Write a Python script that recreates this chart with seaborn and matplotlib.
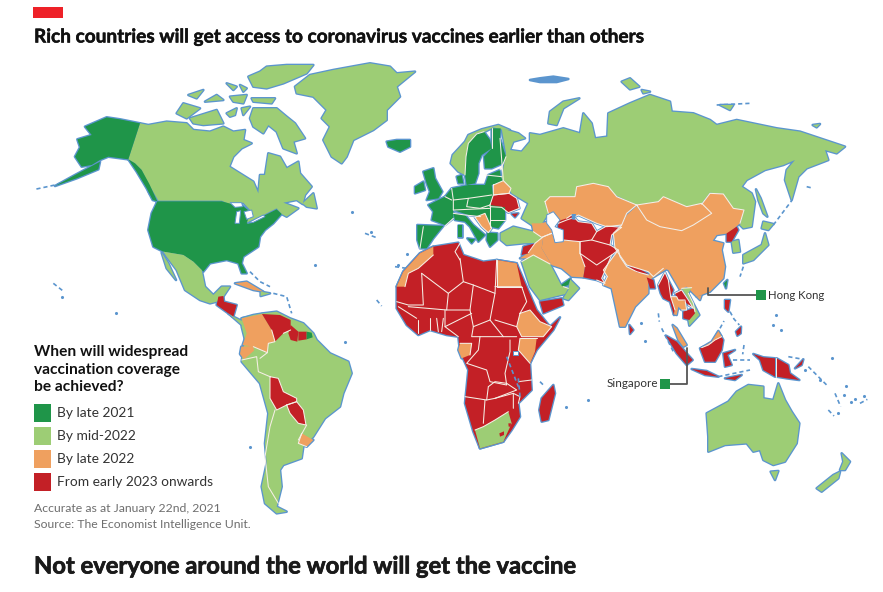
import matplotlib
matplotlib.use("Agg")
import matplotlib.pyplot as plt
import matplotlib.patheffects as pe
import seaborn as sns
import pandas as pd

sns.set_theme(style="white")
plt.rcParams["font.family"] = ["Lato", "DejaVu Sans"]

STATUS = ["By late 2021", "By mid-2022", "By late 2022", "From early 2023 onwards"]
STATUS_COLORS = ["#1F9549", "#9DCD75", "#EFA05F", "#C32026"]
COAST = "#5B95CE"
EDGE = "#F6EFE6"
pal = dict(zip(STATUS, sns.color_palette(STATUS_COLORS)))
LATE21, MID22, LATE22, EARLY23 = STATUS

# ---------------- outlines, in the coordinates of each traced crop (3x) ----------------
N, F, A, S, L = (20, 60), (380, 230), (520, 70), (600, 270), (20, 330)
X, C, U = (650, 265), (500, 190), (410, 120)

# North America
CANADA = [(360,190),(325,298),(345,310),(365,330),(385,370),(415,422),(605,422),(635,435),(670,428),(695,455),(680,488),(730,465),(770,445),(785,462),(800,470),(835,445),(790,428),(830,420),(848,432),(855,405),(875,380),(840,340),(835,305),(800,325),(780,290),(745,280),(735,345),(720,345),(715,400),(700,365),(660,340),(628,320),(640,290),(665,265),(695,250),(670,240),(675,210),(640,215),(610,200),(570,215),(520,210),(500,190),(440,185),(385,195)]
BAFFIN = [(690,175),(700,145),(770,145),(800,170),(825,190),(855,235),(820,245),(830,280),(790,265),(770,215),(745,195),(730,220),(700,200)]
VICTORIA = [(510,175),(590,150),(610,190),(550,195),(520,190)]
BANKS = [(470,160),(490,130),(540,145),(500,175)]
MELVILLE = [(505,105),(550,90),(530,115)]
PRINCE = [(555,125),(610,120),(590,105)]
BATHURST = [(620,70),(650,80),(640,90)]
SOMERSET = [(620,160),(650,145),(645,165),(630,170)]
KING = [(665,145),(690,140),(670,165)]
ELLESMERE = [(685,50),(720,35),(740,20),(800,15),(880,15),(860,40),(790,70),(740,85),(700,80)]
DEVON = [(695,115),(765,115),(755,130),(700,125)]
AXEL = [(660,75),(680,85),(670,95)]
CORNWALL = [(630,110),(680,105),(670,130),(640,125)]
NEWFOUNDLAND = [(848,430),(880,400),(890,445),(860,440)]
GREENLAND = [(825,80),(870,45),(940,30),(1050,10),(1110,20),(1130,40),(1185,35),(1130,80),(1140,110),(1100,150),(1100,180),(1060,210),(1000,240),(980,290),(965,310),(935,290),(910,240),(930,200),(905,175),(920,150),(880,110),(830,100)]
ICELAND = [(1100,245),(1130,240),(1170,240),(1170,260),(1140,275),(1105,260)]
ALASKA = [(360,190),(300,178),(260,172),(195,200),(215,225),(172,238),(180,262),(165,290),(185,320),(215,315),(240,300),(265,290),(325,298)]
AK_PENINSULA = [(240,305),(235,328),(170,355),(105,378),(165,345)]
PANHANDLE = [(325,298),(345,310),(365,330),(388,372),(412,424),(398,420),(380,385),(350,335)]
USA = [(412,424),(605,424),(635,432),(665,435),(690,455),(680,490),(730,468),(770,448),(785,462),(760,490),(735,510),(720,530),(715,560),(670,590),(665,610),(680,640),(665,640),(655,610),(620,600),(570,610),(550,635),(520,605),(490,585),(430,575),(400,560),(385,510),(395,460)]
MEXICO = [(430,575),(490,585),(520,605),(545,630),(555,680),(580,705),(605,680),(630,680),(610,710),(590,725),(570,730),(540,720),(495,690),(470,630),(440,590)]
BAJA = [(425,578),(445,610),(468,660),(440,625)]
CENTRAL = [(595,710),(610,708),(612,725),(650,735),(640,770),(625,760),(590,735)]
PANAMA = [(625,760),(640,770),(670,785),(690,795),(665,795)]
CUBA = [(645,670),(680,665),(730,695),(700,690)]
DOMINICAN = [(722,695),(750,700),(722,708)]

# South America
S_AMERICA = [(665,-35),(700,-45),(730,-50),(770,-55),(810,-35),(850,-20),(880,10),(890,30),(930,70),(985,95),(995,130),(970,190),(960,230),(915,265),(880,320),(850,350),(845,385),(790,405),(780,420),(785,470),(770,530),(800,545),(770,550),(735,520),(725,470),(740,400),(735,340),(745,250),(720,160),(665,95),(670,60),(675,30),(665,-10)]
COLOMBIA = [(665,-35),(726,-48),(755,0),(765,35),(745,40),(742,68),(700,50),(668,45),(680,10)]
ECUADOR = [(664,50),(700,48),(702,62),(672,88),(660,72)]
VENEZUELA = [(726,-48),(780,-45),(812,-30),(812,0),(790,10),(765,35),(755,0)]
GUYANA = [(812,-15),(835,5),(832,35),(812,30),(805,10)]
SURINAME = [(835,5),(860,5),(860,28),(835,32)]
F_GUIANA = [(860,5),(875,8),(878,22),(860,28)]
BOLIVIA = [(750,140),(775,145),(790,185),(830,205),(830,215),(800,225),(770,240),(750,205)]
PARAGUAY = [(800,225),(830,215),(850,240),(858,285),(835,280),(810,250)]
URUGUAY = [(845,310),(880,330),(860,350),(835,340)]

# Africa
AFRICA = [(50,170),(70,125),(120,70),(160,50),(235,38),(250,75),(310,95),(350,90),(410,100),(440,170),(470,240),(510,290),(540,262),(520,300),(470,360),(450,400),(455,480),(415,520),(420,560),(395,600),(370,635),(300,655),(280,605),(255,520),(265,420),(240,365),(235,320),(200,315),(150,300),(115,315),(80,285),(50,235)]
MOROCCO = [(50,170),(70,125),(120,70),(160,50),(160,75),(115,115),(85,130),(75,170)]
EGYPT = [(350,90),(410,100),(425,170),(350,170)]
ETHIOPIA = [(420,250),(450,240),(480,275),(515,290),(490,320),(425,320),(410,290)]
KENYA = [(420,325),(470,325),(465,365),(450,400),(415,360)]
GABON = [(240,340),(275,340),(270,375),(245,385),(235,360)]
S_AFRICA = [(285,600),(310,590),(345,570),(385,545),(395,580),(370,635),(300,655)]
LESOTHO = [(358,610),(372,604),(372,615),(360,620)]
ESWATINI = [(385,580),(393,580),(392,590),(386,590)]
MADAGASCAR = [(520,465),(525,490),(505,570),(485,575),(478,540),(485,505)]

# Europe
NORWAY = [(122,130),(128,105),(165,65),(175,45),(215,28),(265,15),(300,30),(275,28),(250,22),(225,35),(200,40),(175,70),(168,110),(165,165),(145,155)]
SWEDEN = [(175,70),(200,42),(222,35),(240,60),(245,85),(215,105),(205,130),(205,160),(195,190),(170,195),(165,165),(168,110)]
FINLAND = [(245,25),(272,25),(270,55),(288,110),(280,130),(245,145),(225,145),(222,110),(245,85),(245,60)]
BALTICS = [(235,165),(270,150),(272,170),(280,185),(245,195),(225,195)]
BELARUS = [(250,195),(280,182),(303,205),(297,220),(250,225)]
UKRAINE = [(240,255),(250,225),(297,220),(320,235),(328,265),(295,278),(275,262),(240,260)]
CRIMEA = [(305,282),(325,280),(315,292)]
DENMARK = [(140,170),(155,165),(160,190),(145,190)]
UK = [(40,155),(70,145),(75,175),(97,215),(85,235),(50,240),(60,215),(50,190)]
IRELAND = [(15,200),(40,185),(45,210),(15,220)]
IBERIA = [(22,315),(100,318),(70,355),(50,385),(30,385),(22,360)]
FRANCE = [(55,255),(105,230),(130,255),(130,295),(105,315),(65,300),(70,275)]
CENTRAL_EU = [(105,230),(125,205),(175,195),(245,195),(250,225),(240,255),(285,262),(285,300),(265,325),(240,320),(212,290),(175,285),(130,270)]
ITALY = [(130,280),(165,285),(190,315),(225,345),(205,365),(180,320),(165,305),(135,300)]
BALKANS = [(195,292),(225,280),(245,325),(235,338),(215,320)]
GREECE = [(232,338),(262,340),(262,360),(240,380),(230,360)]
SARDINIA = [(145,315),(155,315),(155,350),(145,350)]
SICILY = [(172,355),(195,358),(185,370)]

# Russia and Asia
RUSSIA = [(-55,175),(-5,190),(15,205),(-20,215),(-30,240),(5,245),(30,215),(30,190),(60,195),(130,175),(180,190),(190,130),(215,160),(225,205),(262,200),(265,130),(330,100),(390,75),(450,95),(455,125),(520,130),(570,150),(590,165),(650,150),(770,175),(840,185),(975,230),(950,250),(915,240),(925,270),(860,295),(835,320),(815,390),(795,330),(800,300),(825,270),(790,285),(735,300),(680,330),(665,350),(695,370),(705,395),(695,470),(670,475),(660,465),(672,420),(640,415),(610,372),(570,368),(545,400),(500,410),(430,380),(415,395),(350,405),(285,375),(265,350),(220,340),(170,350),(165,380),(90,380),(75,400),(85,430),(60,470),(35,465),(5,445),(25,400),(-25,370),(-55,325),(-42,250)]
NOVAYA = [(85,160),(90,125),(130,95),(178,85),(130,115),(110,165)]
SAKHALIN = [(708,358),(722,385),(742,440),(730,430),(715,390)]
SVALBARD = [(30,30),(60,25),(100,20),(145,27),(110,36),(60,36)]
SIBERIA_IS = [(600,105),(640,105),(630,120)]
ISLAND_A = [(305,35),(330,25),(358,50),(330,58)]
ISLAND_B = [(365,60),(390,65),(370,70)]
ISLAND_C = [(878,165),(900,162),(890,172)]

TURKEY = [(2,130),(40,110),(100,125),(125,135),(120,158),(70,160),(20,165),(2,150)]
CAUCASUS = [(95,100),(120,100),(145,95),(165,125),(155,130),(125,142),(100,125)]
KAZAKHSTAN = [(75,395),(90,380),(165,380),(170,350),(220,340),(265,350),(290,380),(350,405),(320,430),(305,465),(260,470),(230,460),(175,435),(155,445),(140,450),(115,460),(85,430)]
CENTRAL_ASIA = [(172,118),(178,92),(200,85),(215,75),(235,95),(275,100),(290,125),(320,108),(365,112),(335,135),(330,165),(355,180),(335,195),(305,265),(315,280),(290,270),(250,262),(255,230),(240,190),(240,155),(190,150)]
IRAN = [(130,140),(155,130),(190,150),(240,155),(240,190),(255,230),(250,262),(215,260),(185,235),(155,225),(125,175)]
IRAQ = [(85,188),(105,160),(130,140),(125,175),(155,225),(110,205),(60,205)]
SYRIA = [(70,170),(105,160),(85,190),(65,195)]
SAUDI = [(65,215),(100,195),(150,222),(165,250),(183,285),(205,295),(195,312),(120,330),(90,290)]
OMAN = [(210,268),(237,295),(205,330),(190,325),(205,300)]
UAE = [(183,285),(212,265),(205,285),(190,290)]
YEMEN = [(60,695),(125,685),(130,705),(70,730)]
INDIA = [(250,645),(275,655),(300,770),(315,770),(345,710),(385,670),(385,640),(395,625),(440,597),(420,590),(385,615),(350,605),(320,590),(300,560),(295,540),(250,600),(262,620)]
NEPAL = [(325,588),(350,592),(385,612),(350,607)]
BANGLADESH = [(380,622),(400,630),(405,655),(390,655)]
CHINA = [(350,408),(380,450),(420,470),(485,482),(520,465),(575,430),(545,403),(570,370),(610,372),(640,415),(672,420),(660,460),(625,490),(590,495),(578,512),(610,520),(605,540),(615,590),(610,625),(570,665),(530,680),(500,650),(480,660),(445,600),(430,595),(400,620),(385,605),(320,585),(285,535),(280,490),(305,465),(320,435)]
MONGOLIA = [(350,405),(415,395),(430,380),(500,410),(545,400),(575,430),(520,465),(485,482),(420,470),(380,450)]
N_KOREA = [(620,490),(650,470),(655,480),(635,515),(620,515)]
S_KOREA = [(635,515),(655,510),(660,545),(640,548)]
HONSHU = [(670,580),(670,555),(725,525),(735,490),(745,525),(700,570)]
HOKKAIDO = [(730,455),(760,462),(745,480),(725,475)]

# South-east Asia and Oceania
BURMA = [(25,60),(45,22),(55,45),(70,75),(62,95),(75,135),(72,150),(60,110),(40,100),(32,85)]
THAILAND = [(62,95),(80,95),(85,105),(105,105),(110,135),(95,135),(85,125),(80,150),(72,148),(75,130)]
VIETNAM = [(95,70),(125,68),(115,85),(130,115),(148,150),(118,182),(115,165),(135,140),(115,100)]
LAOS = [(75,85),(95,75),(115,105),(130,130),(115,120),(100,105),(85,105),(80,95)]
CAMBODIA = [(100,140),(130,130),(135,145),(118,165),(100,160)]
HAINAN = [(140,95),(155,90),(150,105)]
TAIWAN = [(222,55),(232,45),(228,70)]
MALAYA = [(68,180),(80,190),(110,240),(100,245),(85,225)]
SUMATRA = [(48,212),(80,230),(110,265),(128,285),(110,300),(80,265)]
JAVA = [(125,312),(170,318),(205,335),(165,330)]
BORNEO = [(150,250),(185,235),(205,200),(220,225),(215,255),(195,290),(165,290)]
SARAWAK = [(155,248),(185,230),(205,198),(215,215),(195,225),(175,240)]
SULAWESI = [(220,265),(255,255),(232,270),(245,300),(225,305)]
LUZON = [(225,105),(240,105),(235,140),(225,130)]
MINDANAO = [(258,200),(273,185),(272,205),(262,212)]
SRI_LANKA = [(88,165),(100,180),(90,192)]
TIMOR = [(375,325),(425,315),(405,330)]
PAPUA = [(460,252),(490,262),(525,265),(525,320),(490,300),(480,270)]
PNG = [(530,265),(565,285),(570,310),(598,330),(560,325),(530,320)]
BRITAIN = [(585,295),(610,268),(605,285)]
AUSTRALIA = [(320,430),(385,395),(410,365),(445,345),(490,350),(490,385),(520,390),(535,340),(555,390),(575,425),(598,460),(590,520),(555,575),(520,585),(490,570),(480,540),(460,545),(440,520),(375,525),(325,545),(325,500)]
TASMANIA = [(512,605),(535,603),(525,630)]
NZ_SOUTH = [(650,655),(700,615),(720,605),(715,625),(665,665)]
NZ_NORTH = [(725,550),(750,575),(735,600),(720,600),(730,575)]

# drawn in this order, so later countries sit on earlier ones
LAND = [
    (N, MID22, CANADA), (N, MID22, BAFFIN), (N, MID22, VICTORIA), (N, MID22, BANKS), (N, MID22, MELVILLE),
    (N, MID22, PRINCE), (N, MID22, BATHURST), (N, MID22, SOMERSET), (N, MID22, KING), (N, MID22, ELLESMERE),
    (N, MID22, DEVON), (N, MID22, AXEL), (N, MID22, CORNWALL), (N, MID22, NEWFOUNDLAND), (N, MID22, GREENLAND),
    (N, LATE21, ICELAND), (N, LATE21, ALASKA), (N, LATE21, AK_PENINSULA), (N, LATE21, PANHANDLE), (N, LATE21, USA),
    (N, MID22, MEXICO), (N, MID22, BAJA), (N, EARLY23, CENTRAL), (N, MID22, PANAMA), (N, LATE22, CUBA), (N, MID22, DOMINICAN),
    (L, MID22, S_AMERICA), (L, LATE22, COLOMBIA), (L, LATE22, ECUADOR), (L, EARLY23, VENEZUELA), (L, EARLY23, GUYANA),
    (L, EARLY23, SURINAME), (L, LATE21, F_GUIANA), (L, EARLY23, BOLIVIA), (L, EARLY23, PARAGUAY), (L, LATE22, URUGUAY),
    (F, EARLY23, AFRICA), (F, LATE22, MOROCCO), (F, LATE22, EGYPT), (F, LATE22, ETHIOPIA), (F, LATE22, KENYA),
    (F, LATE22, GABON), (F, MID22, S_AFRICA), (F, EARLY23, LESOTHO), (F, EARLY23, ESWATINI), (F, EARLY23, MADAGASCAR),
    (A, MID22, RUSSIA), (A, MID22, NOVAYA), (A, MID22, SAKHALIN), (A, COAST, SVALBARD), (A, MID22, SIBERIA_IS),
    (A, MID22, ISLAND_A), (A, MID22, ISLAND_B), (A, MID22, ISLAND_C),
    (U, MID22, NORWAY), (U, LATE21, SWEDEN), (U, LATE21, FINLAND), (U, LATE21, DENMARK), (U, LATE21, BALTICS),
    (U, LATE22, BELARUS), (U, EARLY23, UKRAINE), (U, EARLY23, CRIMEA), (U, LATE21, IBERIA), (U, LATE21, FRANCE),
    (U, LATE21, CENTRAL_EU), (U, LATE21, ITALY), (U, LATE22, BALKANS), (U, LATE21, GREECE), (U, LATE21, UK),
    (U, LATE21, IRELAND), (U, LATE21, SARDINIA), (U, LATE21, SICILY),
    (C, MID22, TURKEY), (C, LATE22, CAUCASUS), (A, LATE22, KAZAKHSTAN), (C, LATE22, IRAN), (C, LATE22, IRAQ), (C, EARLY23, CENTRAL_ASIA),
    (C, EARLY23, SYRIA), (C, MID22, SAUDI), (C, MID22, OMAN), (C, LATE21, UAE), (A, EARLY23, YEMEN), (A, LATE22, INDIA), (A, EARLY23, NEPAL),
    (A, LATE22, CHINA), (A, LATE22, MONGOLIA), (A, EARLY23, BANGLADESH), (A, EARLY23, N_KOREA), (A, MID22, S_KOREA),
    (A, MID22, HONSHU), (A, MID22, HOKKAIDO), (X, LATE21, TAIWAN), (X, LATE22, HAINAN),
    (X, EARLY23, BURMA), (X, LATE22, THAILAND), (X, MID22, VIETNAM), (X, EARLY23, LAOS), (X, EARLY23, CAMBODIA),
    (X, LATE22, MALAYA), (S, EARLY23, SRI_LANKA), (X, EARLY23, LUZON), (X, EARLY23, MINDANAO), (X, EARLY23, SUMATRA),
    (X, EARLY23, JAVA), (X, EARLY23, BORNEO), (X, LATE22, SARAWAK), (X, EARLY23, SULAWESI), (S, EARLY23, TIMOR),
    (S, EARLY23, PAPUA), (S, EARLY23, PNG), (S, EARLY23, BRITAIN), (S, MID22, AUSTRALIA), (S, MID22, TASMANIA),
    (S, MID22, NZ_SOUTH), (S, MID22, NZ_NORTH),
]

# water cut back out of the land
SUPERIOR = [(630,428),(665,428),(668,440),(645,442)]
MICHIGAN = [(650,455),(662,452),(658,490),(645,490)]
HURON = [(672,455),(695,450),(700,470),(680,478)]
ONTARIO = [(682,490),(710,475),(730,465),(735,470),(700,487)]
CASPIAN = [(140,75),(160,65),(180,90),(165,110),(190,120),(190,155),(165,158),(155,120),(140,100)]
ARAL = [(215,72),(228,72),(225,90),(215,88)]
VICTORIA_LAKE = [(400,362),(413,362),(413,376),(400,376)]
WATER = [(N, SUPERIOR), (N, MICHIGAN), (N, HURON), (N, ONTARIO), (C, CASPIAN), (F, VICTORIA_LAKE)]

# white borders between countries
BORDERS_F = [
    [(240,85),(250,155),(205,190),(125,130)], [(125,130),(130,225),(85,225),(50,215)], [(240,40),(225,65),(240,90)],
    [(250,155),(280,165),(345,190),(350,90)], [(280,165),(270,240),(280,290),(330,270),(345,190)],
    [(205,190),(200,240),(270,240)], [(345,170),(425,170),(440,215),(420,250)], [(345,270),(410,290)],
    [(330,270),(370,320),(410,320)], [(280,290),(275,320),(370,320)],
    [(300,320),(295,360),(260,400),(320,420),(330,455),(380,465),(375,430),(390,365),(390,330)],
    [(195,240),(195,290),(235,320)], [(195,290),(275,250)], [(150,265),(150,300)], [(170,265),(175,305)], [(185,305),(190,265)],
    [(115,270),(115,310)], [(85,230),(200,240)], [(255,500),(320,510),(325,470)], [(315,510),(310,580)],
    [(320,510),(345,505),(400,490),(400,535)], [(325,470),(345,455),(380,460),(410,480),(345,505)], [(400,490),(420,500),(415,520)],
    [(415,455),(455,450)], [(55,230),(110,265)], MOROCCO[4:], S_AFRICA[:4], ETHIOPIA + ETHIOPIA[:1], KENYA[:2], KENYA[3:] + KENYA[:1],
    [(350,90),(350,170),(425,170)], GABON[:3],
]
BORDERS_U = [
    [(125,205),(130,240),(130,270)], [(130,240),(175,235),(245,225)], [(175,235),(170,260),(210,265),(240,255)], [(130,270),(240,265)],
    [(240,258),(240,320)], [(240,300),(285,300)], [(40,320),(30,385)], [(228,165),(275,170)], [(105,230),(125,240)], [(105,318),(130,295)],
    [(165,165),(168,110),(175,70),(200,42),(222,35)], [(245,25),(245,85)], BELARUS + BELARUS[:1], UKRAINE + UKRAINE[:1], BALKANS + BALKANS[:1],
    [(130,280),(165,285),(212,290)], [(280,182),(270,55)], [(288,110),(280,130),(270,150)],
]
BORDERS_L = [[(765,240),(750,290),(735,380),(745,470),(775,520)], [(665,90),(710,80),(715,125),(750,140)], [(742,68),(720,85)], [(835,330),(860,285)],
             BOLIVIA + BOLIVIA[:1], PARAGUAY + PARAGUAY[:1], COLOMBIA[2:7], VENEZUELA[3:5], URUGUAY[2:] + URUGUAY[:1]]
BORDERS_A = [MONGOLIA + MONGOLIA[:1], KAZAKHSTAN + KAZAKHSTAN[:1], CHINA[6:12], CHINA[24:31], INDIA[10:], [(250,645),(262,620)]]
BORDERS_C = [CENTRAL_ASIA[2:16], [(240,155),(275,150),(290,125)], [(275,150),(330,165)], [(240,190),(290,225),(335,195)], [(240,155),(240,190),(255,230)],
             IRAN[:5], IRAQ[:3], CAUCASUS[4:], [(65,215),(100,195),(150,222)], [(205,295),(190,290)]]
BORDERS_X = [BURMA[:3] + BURMA[4:6], THAILAND[:6], LAOS[:5], VIETNAM[:2], [(115,85),(130,115),(135,140)], [(155,248),(175,240),(195,225),(215,215)]]
BORDERS_S = [[(527,265),(527,320)]]
BORDERS = [(F, BORDERS_F), (U, BORDERS_U), (L, BORDERS_L), (A, BORDERS_A), (C, BORDERS_C), (X, BORDERS_X), (S, BORDERS_S)]

# tiny islands and broken coasts, only blue in the original
ARCS = [
    (N, [(205,340),(105,375),(45,388)]), (N, [(345,315),(360,340),(375,375),(392,410),(410,430)]), (N, [(690,635),(720,665),(750,680)]),
    (N, [(760,700),(800,710),(815,760)]), (N, [(100,670),(128,692)]), (N, [(1035,520),(1075,535)]), (N, [(1125,620),(1160,625)]), (N, [(1070,720),(1085,738)]),
    (X, [(240,140),(252,162),(268,180)]), (X, [(210,190),(222,168)]), (X, [(25,145),(28,170)]), (X, [(35,190),(70,260)]),
    (X, [(282,240),(278,268)]), (X, [(250,285),(300,285)]), (X, [(205,335),(300,315)]),
    (S, [(625,290),(680,345)]), (S, [(705,370),(722,410)]), (S, [(685,420),(702,438)]), (S, [(780,400),(802,388)]), (S, [(565,260),(610,268)]),
    (A, [(760,465),(815,392)]), (A, [(590,105),(690,100)]), (A, [(860,350),(880,355)]), (A, [(670,590),(660,620)]),
    (F, [(480,455),(495,470)]), (F, [(380,380),(415,470)]), (F, [(415,445),(420,500)]),
]
DOT_X = [62, 116, 352, 371, 398, 407, 432, 399, 641, 645, 781, 832, 844, 864, 820, 805, 838, 851, 846, 855, 773, 776, 315, 250, 345, 588, 566]
DOT_Y = [297, 313, 212, 232, 265, 254, 307, 303, 323, 341, 330, 358, 395, 396, 380, 370, 413, 402, 386, 399, 325, 315, 265, 447, 342, 400, 407]

TITLE = "Rich countries will get access to coronavirus vaccines earlier than others"
SUBTITLE = "Not everyone around the world will get the vaccine"
LEGEND_TITLE = "When will widespread\nvaccination coverage\nbe achieved?"
NOTE = "Accurate as at January 22nd, 2021\nSource: The Economist Intelligence Unit."
SWATCH_X = [42.5, 42.5, 42.5, 42.5]
SWATCH_Y = [413, 436, 459, 482]
CITIES = ["Hong Kong", "Singapore"]
CITY_X = [761, 665]
CITY_Y = [295, 383.5]
HK_LINE = ([708, 708, 757], [288, 295, 295])
SG_LINE = ([687, 687, 669], [348, 383.5, 383.5])


def to_px(crop, pts):
    return [crop[0] + x / 3 for x, _ in pts], [crop[1] + y / 3 for _, y in pts]


def color_of(key):
    return pal.get(key, key)


fig, ax = plt.subplots(figsize=(8.83, 5.92), dpi=100)
fig.subplots_adjust(0, 0, 1, 1)
ax.set_xlim(0, 883)
ax.set_ylim(592, 0)
ax.axis("off")

# blue coast first, then all fills over it, so only the outer rim of the blue survives
for crop, key, poly in LAND:
    ax.fill(*to_px(crop, poly), facecolor="none", edgecolor=COAST, lw=1.9, joinstyle="round", zorder=1)
for crop, arc in ARCS:
    x, y = to_px(crop, arc)
    ax.plot(x, y, color=COAST, lw=1.2, ls=(0, (2.5, 1.8)), zorder=1 if crop != F else 4.5)
sns.scatterplot(x=DOT_X, y=DOT_Y, color=COAST, s=5, linewidth=0, ax=ax, zorder=1, legend=False)

for crop, key, poly in LAND:
    ax.fill(*to_px(crop, poly), facecolor=color_of(key), edgecolor="none", zorder=2)
for crop, lines in BORDERS:
    for line in lines:
        x, y = to_px(crop, line)
        ax.plot(x, y, color=EDGE, lw=0.75, zorder=3)
for crop, poly in WATER:
    ax.fill(*to_px(crop, poly), facecolor="white", edgecolor=COAST, lw=0.7, zorder=4)
ax.fill(*to_px(C, ARAL), facecolor=COAST, edgecolor="none", zorder=4)

# legend and callouts
swatches = pd.DataFrame({"x": SWATCH_X, "y": SWATCH_Y, "status": STATUS})
sns.scatterplot(data=swatches, x="x", y="y", hue="status", palette=pal, marker="s", s=150, linewidth=0, ax=ax, legend=False, zorder=5)
for yy, label in zip(SWATCH_Y, STATUS):
    ax.text(57, yy, label, fontsize=9.95, color="#333333", va="center", ha="left")
ax.text(34, 345, LEGEND_TITLE, fontsize=11.2, fontweight="bold", color="#111111", va="top", ha="left", linespacing=1.34)
ax.text(34, 503, NOTE, fontsize=8.8, color="#6E6E6E", va="top", ha="left", linespacing=1.54)

ax.plot(*HK_LINE, color="#555555", lw=1.3, zorder=5)
ax.plot(*SG_LINE, color="#555555", lw=1.3, zorder=5)
sns.scatterplot(x=CITY_X, y=CITY_Y, color=STATUS_COLORS[0], marker="s", s=42, linewidth=0, ax=ax, legend=False, zorder=6)
ax.text(768, 295.5, CITIES[0], fontsize=8.2, color="#333333", va="center", ha="left")
ax.text(658, 383.5, CITIES[1], fontsize=8.4, color="#333333", va="center", ha="right")

# headings
ax.fill([33, 63, 63, 33], [7, 7, 18, 18], facecolor="#EE2128", edgecolor="none")
ax.text(34, 37, TITLE, fontsize=13.7, fontweight="bold", color="#111111", va="center", ha="left",
        path_effects=[pe.withStroke(linewidth=0.35, foreground="#111111")])
ax.text(34, 566, SUBTITLE, fontsize=17.1, fontweight="bold", color="#1A1A1A", va="center", ha="left",
        path_effects=[pe.withStroke(linewidth=0.5, foreground="#1A1A1A")])

fig.savefig("out.png", dpi=100)
